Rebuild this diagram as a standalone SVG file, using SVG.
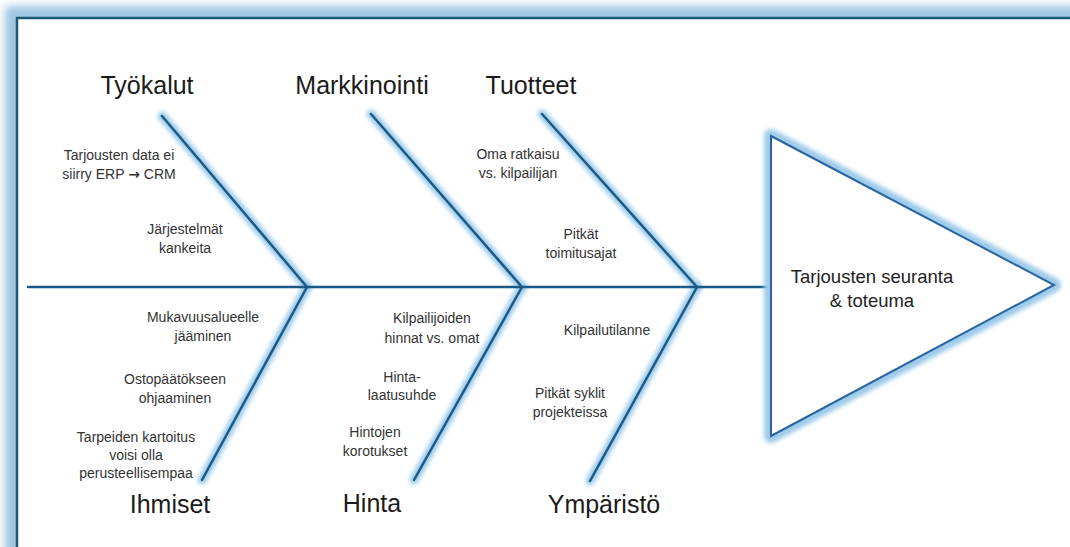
<svg xmlns="http://www.w3.org/2000/svg" width="1070" height="547" viewBox="0 0 1070 547">
  <defs>
    <filter id="soft" x="-20%" y="-20%" width="140%" height="140%">
      <feGaussianBlur stdDeviation="2.2"/>
    </filter>
    <filter id="frameGlow" x="-10%" y="-10%" width="120%" height="120%">
      <feGaussianBlur stdDeviation="4"/>
    </filter>
    <style>
      .glow { fill: none; stroke: #9ccbea; stroke-width: 9; stroke-linecap: round; filter: url(#soft); }
      .bone { fill: none; stroke: #1b5a85; stroke-width: 2.5; stroke-linecap: round; }
      .title { font-family: "Liberation Sans", Arial, sans-serif; font-size: 25px; fill: #1a1a1a; text-anchor: middle; }
      .cause { font-family: "Liberation Sans", Arial, sans-serif; font-size: 14px; fill: #333333; text-anchor: middle; }
      .head { font-family: "Liberation Sans", Arial, sans-serif; font-size: 18.5px; fill: #222222; text-anchor: middle; }
      .sym { font-family: "DejaVu Sans", sans-serif; font-weight: bold; }
    </style>
  </defs>

  <!-- page background and framed panel -->
  <rect x="0" y="0" width="1070" height="547" fill="#ffffff"/>
  <rect x="17" y="18" width="1080" height="560" fill="none" stroke="#9cc6e2" stroke-width="24" filter="url(#frameGlow)"/>
  <rect x="17" y="18" width="1080" height="560" fill="#ffffff" stroke="#1d5878" stroke-width="2.5"/>

  <!-- connectors: spine and category bones -->
  <g id="connectors">
    <g>
      <line class="glow" x1="28" y1="287" x2="771" y2="287"/>
      <line class="glow" x1="162" y1="116" x2="307" y2="287"/>
      <line class="glow" x1="307" y1="287" x2="202" y2="480"/>
      <line class="glow" x1="371" y1="114" x2="522" y2="287"/>
      <line class="glow" x1="522" y1="287" x2="414" y2="480"/>
      <line class="glow" x1="542" y1="114" x2="697" y2="287"/>
      <line class="glow" x1="697" y1="287" x2="590" y2="481"/>
    </g>
    <line class="bone" x1="28" y1="287" x2="771" y2="287"/>
    <line class="bone" x1="162" y1="116" x2="307" y2="287"/>
    <line class="bone" x1="307" y1="287" x2="202" y2="480"/>
    <line class="bone" x1="371" y1="114" x2="522" y2="287"/>
    <line class="bone" x1="522" y1="287" x2="414" y2="480"/>
    <line class="bone" x1="542" y1="114" x2="697" y2="287"/>
    <line class="bone" x1="697" y1="287" x2="590" y2="481"/>
  </g>

  <!-- effect head -->
  <g id="head">
    <polygon points="771,136 1054,285 771,436" fill="none" stroke="#9ccbea" stroke-width="14" stroke-linejoin="round" filter="url(#soft)"/>
    <polygon points="771,136 1054,285 771,436" fill="#ffffff" stroke="#2a64a0" stroke-width="2"/>
    <text class="head" x="872" y="283">Tarjousten seuranta</text>
    <text class="head" x="872" y="307">&amp; toteuma</text>
  </g>

  <!-- Työkalut -->
  <g id="tyokalut">
    <text class="title" x="147" y="94">Työkalut</text>
    <text class="cause" x="119" y="160">Tarjousten data ei</text>
    <text class="cause" x="119" y="179">siirry ERP <tspan class="sym">→</tspan> CRM</text>
    <text class="cause" x="185" y="234">Järjestelmät</text>
    <text class="cause" x="185" y="253">kankeita</text>
  </g>

  <!-- Markkinointi -->
  <g id="markkinointi">
    <text class="title" x="362" y="94">Markkinointi</text>
  </g>

  <!-- Tuotteet -->
  <g id="tuotteet">
    <text class="title" x="531" y="94">Tuotteet</text>
    <text class="cause" x="518" y="159">Oma ratkaisu</text>
    <text class="cause" x="518" y="178">vs. kilpailijan</text>
    <text class="cause" x="581" y="239">Pitkät</text>
    <text class="cause" x="581" y="258">toimitusajat</text>
  </g>

  <!-- Ihmiset -->
  <g id="ihmiset">
    <text class="cause" x="203" y="322">Mukavuusalueelle</text>
    <text class="cause" x="203" y="341">jääminen</text>
    <text class="cause" x="175" y="384">Ostopäätökseen</text>
    <text class="cause" x="175" y="403">ohjaaminen</text>
    <text class="cause" x="136" y="442">Tarpeiden kartoitus</text>
    <text class="cause" x="136" y="460">voisi olla</text>
    <text class="cause" x="136" y="478">perusteellisempaa</text>
    <text class="title" x="170" y="513">Ihmiset</text>
  </g>

  <!-- Hinta -->
  <g id="hinta">
    <text class="cause" x="432" y="323">Kilpailijoiden</text>
    <text class="cause" x="432" y="343">hinnat vs. omat</text>
    <text class="cause" x="402" y="382">Hinta-</text>
    <text class="cause" x="402" y="400">laatusuhde</text>
    <text class="cause" x="375" y="437">Hintojen</text>
    <text class="cause" x="375" y="456">korotukset</text>
    <text class="title" x="372" y="512">Hinta</text>
  </g>

  <!-- Ympäristö -->
  <g id="ymparisto">
    <text class="cause" x="607" y="335">Kilpailutilanne</text>
    <text class="cause" x="570" y="398">Pitkät syklit</text>
    <text class="cause" x="570" y="417">projekteissa</text>
    <text class="title" x="604" y="513">Ympäristö</text>
  </g>
</svg>
